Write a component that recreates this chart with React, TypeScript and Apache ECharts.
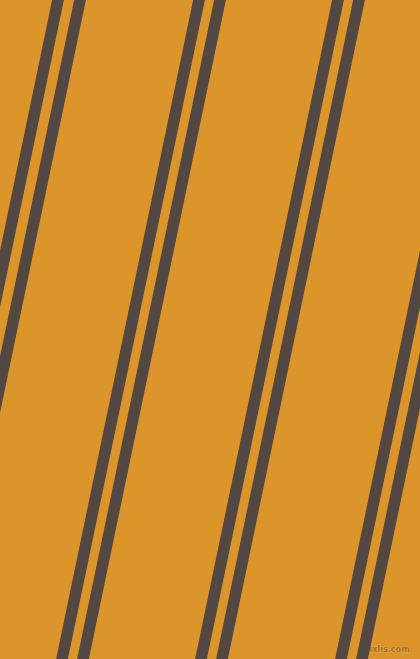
// Diagonal double-stripe pattern — each stripe is a two-point line series on hidden value axes.
import * as React from "react";
import * as echarts from "echarts";

const W = 420;
const H = 659;

// stripe centre x where it crosses the top edge (y = 0) and the bottom edge (y = 659)
const stripeTopX = [58, 80, 199, 220, 338, 359, 478, 499];
const stripeBottomX = [-79, -57, 62, 83, 201, 222, 341, 362];

const BG = "#db952b";
const STRIPE = "#534741";

export default function App() {
  const ref = React.useRef<HTMLDivElement | null>(null);

  React.useEffect(() => {
    if (!ref.current) return;
    document.body.style.margin = "0";
    const chart = echarts.init(ref.current, undefined, { renderer: "svg" });

    chart.setOption({
      animation: false,
      backgroundColor: BG,
      grid: { left: 0, right: 0, top: 0, bottom: 0 },
      xAxis: { type: "value", min: 0, max: W, show: false },
      yAxis: { type: "value", min: 0, max: H, inverse: true, show: false },
      series: stripeTopX.map((x0, i) => ({
        type: "line",
        clip: true,
        symbol: "none",
        silent: true,
        lineStyle: { color: STRIPE, width: 11.5, cap: "square" },
        data: [
          [x0, 0],
          [stripeBottomX[i], H],
        ],
      })),
      graphic: [
        {
          type: "text",
          right: 10,
          bottom: 5,
          style: {
            text: "pixlis.com",
            font: "bold 9px 'DejaVu Sans Condensed'",
            fill: "#a8742a",
            stroke: "#eaa94c",
            lineWidth: 0.8,
          },
        },
      ],
    });

    return () => chart.dispose();
  }, []);

  return (
    <div
      ref={ref}
      style={{ position: "fixed", left: 0, top: 0, width: W, height: H }}
      role="img"
      aria-label="diagonal stripes pattern"
    />
  );
}
